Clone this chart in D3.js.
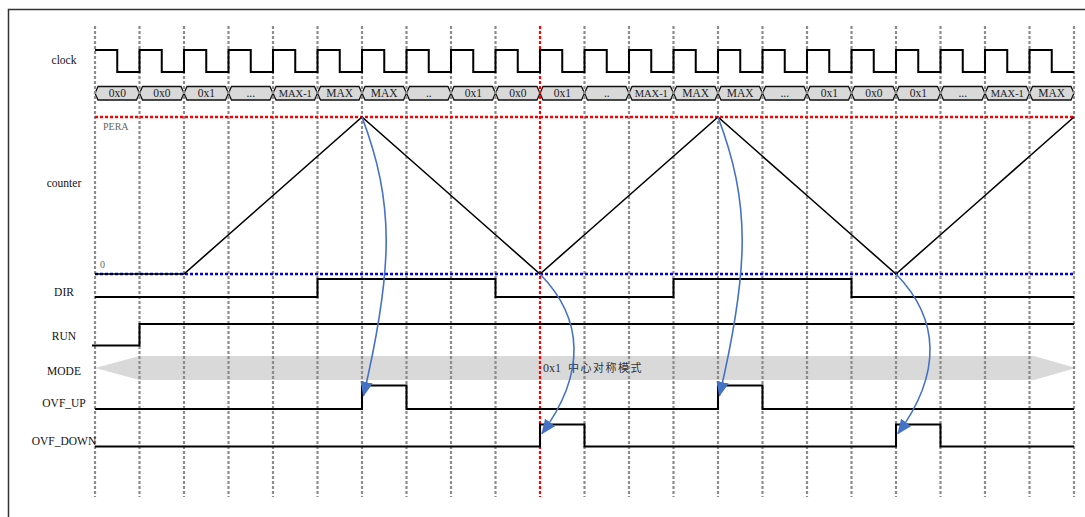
<!DOCTYPE html>
<html><head><meta charset="utf-8">
<script src="https://cdn.jsdelivr.net/npm/d3@7/dist/d3.min.js"></script>
<style>body{margin:0;background:#fff}svg{display:block}
.sf{font-family:"Liberation Serif","Times New Roman","DejaVu Serif",serif}
.cjk{font-family:"Noto Sans CJK SC",sans-serif}
</style>
</head><body>
<svg id="c" width="1085" height="517"></svg>
<script>
// ---- data ----
const steps = d3.range(0, 23);                 // grid instants t0..t22
const clockPeriods = d3.range(0, 22);          // one clock cycle per period
const busLabels = ["0x0","0x0","0x1","...","MAX-1","MAX","MAX","..","0x1","0x0","0x1","..","MAX-1","MAX","MAX","...","0x1","0x0","0x1","...","MAX-1","MAX"];
const counterValues = [0,0,0,1,2,3,4,3,2,1,0,1,2,3,4,3,2,1,0,1,2,3,4];
const dirLevels   = [0,0,0,0,0,1,1,1,1,0,0,0,0,1,1,1,1,0,0,0,0,0];
const runLevels   = [0,1,1,1,1,1,1,1,1,1,1,1,1,1,1,1,1,1,1,1,1,1];
const ovfUpLevels = [0,0,0,0,0,0,1,0,0,0,0,0,0,0,1,0,0,0,0,0,0,0];
const ovfDnLevels = [0,0,0,0,0,0,0,0,0,0,1,0,0,0,0,0,0,0,1,0,0,0];
const signalNames = ["clock","counter","DIR","RUN","MODE","OVF_UP","OVF_DOWN"];
const modeText = ["0x1","中心对称模式"];
const centerStep = 10;
const upArrowSteps = [6,14];     // counter reaches MAX -> OVF_UP
const downArrowSteps = [10,18];  // counter reaches 0 -> OVF_DOWN

// ---- layout ----
const svg = d3.select("#c");
const x = d3.scaleLinear().domain([0,22]).range([95,1074]);
const yClock = d3.scaleLinear().domain([0,1]).range([72,50]);
const yCounter = d3.scaleLinear().domain([0,4]).range([274,117]);
const yDir = d3.scaleLinear().domain([0,1]).range([297,279]);
const yRun = d3.scaleLinear().domain([0,1]).range([345.5,324]);
const yUp = d3.scaleLinear().domain([0,1]).range([409,385.5]);
const yDn = d3.scaleLinear().domain([0,1]).range([446.5,424.5]);
const labelY = {clock:64,counter:187,DIR:296,RUN:340,MODE:375,OVF_UP:407,OVF_DOWN:445};

// frame
svg.append("path").attr("d","M8.5,517 V9.5 H1085").attr("fill","none").attr("stroke","#333").attr("stroke-width",1.5);

// MODE arrow band (behind grid)
const mTop=356, mBot=380, mMid=368;
svg.append("path")
  .attr("d",`M${x(0)},${mMid} L${x(1)},${mTop} L${x(21.1)},${mTop} L${x(22)+2},${mMid} L${x(21.1)},${mBot} L${x(1)},${mBot} Z`)
  .attr("fill","#d9d9d9");

// bus cells
const busTop=86.5, busBot=100, busMid=(busTop+busBot)/2, d=3;
const bus = svg.append("g");
clockPeriods.forEach(i=>{
  const x0=x(i), x1=x(i+1);
  bus.append("path")
    .attr("d",`M${x0},${busMid} L${x0+d},${busTop} L${x1-d},${busTop} L${x1},${busMid} L${x1-d},${busBot} L${x0+d},${busBot} Z`)
    .attr("fill","#d9d9d9").attr("stroke","#111").attr("stroke-width",1.3);
});

// grid
const grid = svg.append("g");
steps.forEach(t=>{
  const red = t===centerStep;
  grid.append("line").attr("x1",x(t)).attr("x2",x(t)).attr("y1",26).attr("y2",497)
    .attr("stroke", red ? "#ff0000" : "#8c8c8c").attr("stroke-width",2.2)
    .attr("stroke-dasharray","3,2");
});

// bus labels on top
clockPeriods.forEach(i=>{
  const t = busLabels[i];
  bus.append("text").attr("class","sf").attr("x",(x(i)+x(i+1))/2).attr("y",busMid+4)
    .attr("text-anchor","middle").attr("font-size", t.length>4 ? 10.5 : 11.5)
    .attr("fill","#222").text(t);
});

// PERA and zero reference lines
svg.append("line").attr("x1",x(0)).attr("x2",x(22)).attr("y1",yCounter(4)).attr("y2",yCounter(4))
  .attr("stroke","#ff0000").attr("stroke-width",2.5).attr("stroke-dasharray","3,2");
svg.append("line").attr("x1",x(0)).attr("x2",x(22)).attr("y1",yCounter(0)).attr("y2",yCounter(0))
  .attr("stroke","#0000ee").attr("stroke-width",2.5).attr("stroke-dasharray","3,2");
svg.append("text").attr("class","sf").attr("x",103).attr("y",130).attr("font-size",10).attr("fill","#666").text("PERA");
svg.append("text").attr("class","sf").attr("x",100).attr("y",268).attr("font-size",10).attr("fill","#666").text("0");

// waveforms
const wave = (arr, ys) => {
  const pts=[];
  arr.forEach((v,i)=>{ pts.push([x(i),ys(v)]); pts.push([x(i+1),ys(v)]); });
  return d3.line()(pts);
};
const clockPts=[];
clockPeriods.forEach(i=>{
  clockPts.push([x(i),yClock(1)],[x(i+0.5),yClock(1)],[x(i+0.5),yClock(0)],[x(i+1),yClock(0)]);
});
const g = svg.append("g").attr("fill","none").attr("stroke","#000").attr("stroke-width",2);
g.append("path").attr("d",d3.line()(clockPts));
g.append("path").attr("d",d3.line()(counterValues.map((v,i)=>[x(i),yCounter(v)]))).attr("stroke-width",1.6);
g.append("path").attr("d",wave(dirLevels,yDir));
g.append("path").attr("d","M"+(x(0)-3)+","+yRun(0)+wave(runLevels,yRun).replace(/^M/,"L"));
g.append("path").attr("d",wave(ovfUpLevels,yUp));
g.append("path").attr("d",wave(ovfDnLevels,yDn));

// labels
signalNames.forEach(n=>{
  svg.append("text").attr("class","sf").attr("x",64).attr("y",labelY[n]).attr("text-anchor","middle")
    .attr("font-size",11.5).attr("fill","#111").text(n);
});
svg.append("text").attr("class","sf").attr("x",543).attr("y",372).attr("font-size",12).attr("fill","#333").text(modeText[0]);
svg.append("text").attr("class","cjk").attr("x",568).attr("y",372).attr("font-size",11).attr("fill","#333").attr("letter-spacing",1.5).text(modeText[1]);

// blue arrows
const defs = svg.append("defs");
defs.append("marker").attr("id","ah").attr("markerUnits","userSpaceOnUse")
  .attr("markerWidth",15).attr("markerHeight",13).attr("refX",11).attr("refY",5)
  .attr("viewBox","0 0 12 10").attr("orient","auto")
  .append("path").attr("d","M0,0 L12,5 L0,10 Z").attr("fill","#4472c4");
const arr = svg.append("g").attr("fill","none").attr("stroke","#4472c4").attr("stroke-width",1.6);
upArrowSteps.forEach(t=>{
  const x0=x(t), y0=yCounter(counterValues[t]);
  const x1=x(t)+1.5, y1=yUp(1)+10;
  arr.append("path").attr("d",`M${x0},${y0} C${x0+32},${y0+85} ${x0+32},${y1-130} ${x1},${y1}`).attr("marker-end","url(#ah)");
});
downArrowSteps.forEach(t=>{
  const x0=x(t), y0=yCounter(counterValues[t]);
  const x1=x(t)+2, y1=yDn(1)+9;
  arr.append("path").attr("d",`M${x0},${y0} C${x0+44},${y0+45} ${x0+46},${y1-60} ${x1},${y1}`).attr("marker-end","url(#ah)");
});
</script>
</body></html>
